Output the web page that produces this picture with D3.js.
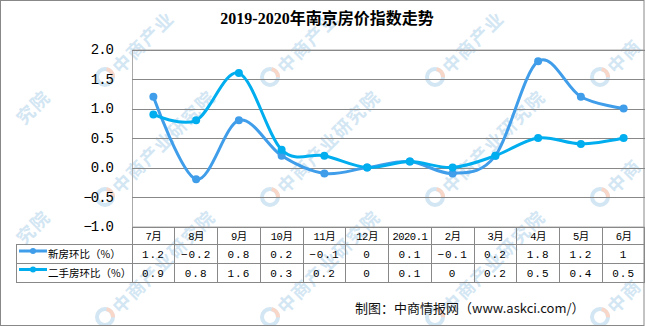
<!DOCTYPE html>
<html>
<head>
<meta charset="utf-8">
<script src="https://cdn.jsdelivr.net/npm/d3@7"></script>
<style>
  html, body { margin: 0; padding: 0; background: #fff; }
  svg { display: block; }
</style>
</head>
<body>
<svg id="chart" width="645" height="326"></svg>
<script>
const title = "2019-2020年南京房价指数走势";
const months = ["7月","8月","9月","10月","11月","12月","2020.1","2月","3月","4月","5月","6月"];
const seriesNames = ["新房环比（%）", "二手房环比（%）"];
const newHouse = [1.2, -0.2, 0.8, 0.2, -0.1, 0, 0.1, -0.1, 0.2, 1.8, 1.2, 1];
const secondHand = [0.9, 0.8, 1.6, 0.3, 0.2, 0, 0.1, 0, 0.2, 0.5, 0.4, 0.5];
const yTicks = [2.0, 1.5, 1.0, 0.5, 0.0, -0.5, -1.0];
const source = "制图：中商情报网（www.askci.com/）";
const watermark = "中商产业研究院";

const colors = ["#3f9dea", "#00aeef"];
const svg = d3.select("#chart");
const W = 645, H = 326;

svg.append("rect").attr("width", W).attr("height", H).attr("fill", "#fff");

// watermark (beneath chart); only glyphs fully inside the picture are drawn
const wm = svg.append("g");
const wmX = [-60, 105, 270, 435, 600];
const wmY = [-43, 77, 197, 317];
const dir = [Math.SQRT1_2, -Math.SQRT1_2];
wmY.forEach(y0 => wmX.forEach(x0 => {
  const g = wm.append("g").attr("transform", `translate(${x0},${y0})`);
  g.append("circle").attr("r", 8).attr("fill", "none").attr("stroke", "#d3e6f3").attr("stroke-width", 4);
  const arc = d3.arc().innerRadius(6).outerRadius(10).startAngle(0.2).endAngle(1.6);
  g.append("path").attr("d", arc()).attr("fill", "#f8d6c8");
  Array.from(watermark).forEach((ch, i) => {
    const s = 4 + i * 19.5 + 9;
    const cx = x0 + 8 + dir[0] * s, cy = y0 - 4 + dir[1] * s;
    if (cx < 14 || cx > W - 14 || cy < 14 || cy > H - 14) return;
    wm.append("text").attr("transform", `translate(${cx},${cy}) rotate(-45)`)
      .attr("text-anchor", "middle").attr("dy", "0.35em")
      .attr("font-family", "Noto Sans CJK SC").attr("font-size", 18).attr("font-weight", "bold")
      .attr("fill", "#d3e6f3").text(ch);
  });
}));

// frame
svg.append("rect").attr("x", 0.5).attr("y", 0.5).attr("width", W - 1.5).attr("height", H - 1)
  .attr("fill", "none").attr("stroke", "#888");

// title
svg.append("text").attr("x", 327).attr("y", 24).attr("text-anchor", "middle")
  .attr("font-family", "Liberation Serif, Noto Sans CJK SC").attr("font-weight", "bold")
  .attr("font-size", 16).attr("fill", "#000").text(title);

const x = d3.scaleBand().domain(months).range([132, 645]);
const y = d3.scaleLinear().domain([-1, 2]).range([226.5, 49.5]);

// gridlines + y axis
const yAxis = d3.axisLeft(y).tickValues(yTicks).tickSize(-(645 - 132)).tickFormat(d3.format(".1f"));
const ga = svg.append("g").attr("transform", "translate(132,0)").call(yAxis);
ga.select(".domain").attr("stroke", "#aaa");
ga.selectAll(".tick line").attr("stroke", "#888").attr("shape-rendering", "crispEdges");
ga.selectAll(".tick text").attr("x", -19)
  .attr("font-family", "Liberation Mono").attr("font-size", 14).attr("letter-spacing", -1)
  .attr("fill", "#000");

// data table
const rowTop = 226.5, r1 = 244.5, r2 = 263.5, r3 = 282;
const tbl = svg.append("g").attr("shape-rendering", "crispEdges");
[r1, r2, r3].forEach(yy => tbl.append("line").attr("x1", 16).attr("x2", 645).attr("y1", yy).attr("y2", yy).attr("stroke", "#888"));
tbl.append("line").attr("x1", 16).attr("x2", 16).attr("y1", r1).attr("y2", r3).attr("stroke", "#888");
months.forEach(m => {
  tbl.append("line").attr("x1", x(m)).attr("x2", x(m)).attr("y1", rowTop).attr("y2", r3).attr("stroke", "#888");
});
tbl.append("line").attr("x1", 644).attr("x2", 644).attr("y1", rowTop).attr("y2", r3).attr("stroke", "#888");

const tfont = "Liberation Mono, Noto Sans CJK SC";
svg.append("g").selectAll("text").data(months).join("text")
  .attr("x", d => x(d) + x.bandwidth() / 2).attr("y", (rowTop + r1) / 2 + 4)
  .attr("text-anchor", "middle").attr("font-family", tfont).attr("font-size", 10.5)
  .attr("letter-spacing", -0.5).text(d => d);

const fmt = v => String(v).replace("-", "−");
[newHouse, secondHand].forEach((vals, i) => {
  const cy = i === 0 ? (r1 + r2) / 2 + 4 : (r2 + r3) / 2 + 4;
  svg.append("g").selectAll("text").data(vals).join("text")
    .attr("x", (d, j) => x(months[j]) + x.bandwidth() / 2).attr("y", cy)
    .attr("text-anchor", "middle").attr("font-family", tfont).attr("font-size", 11)
    .attr("letter-spacing", 1).text(d => fmt(d));
  const ly = i === 0 ? 251 : 269.5;
  svg.append("line").attr("x1", 19).attr("x2", 47).attr("y1", ly).attr("y2", ly)
    .attr("stroke", colors[i]).attr("stroke-width", 3);
  svg.append("circle").attr("cx", 33).attr("cy", ly).attr("r", 3).attr("fill", colors[i]);
  svg.append("text").attr("x", 48).attr("y", cy).attr("font-family", "Noto Sans CJK SC")
    .attr("font-size", 10.5).attr("fill", "#000").text(seriesNames[i]);
});

// smoothed lines
const line = d3.line().x((d, j) => x(months[j]) + x.bandwidth() / 2).y(d => y(d))
  .curve(d3.curveCardinal.tension(0));
[newHouse, secondHand].forEach((vals, i) => {
  svg.append("path").datum(vals).attr("d", line).attr("fill", "none")
    .attr("stroke", colors[i]).attr("stroke-width", 3).attr("stroke-linejoin", "round");
  svg.append("g").selectAll("circle").data(vals).join("circle")
    .attr("cx", (d, j) => x(months[j]) + x.bandwidth() / 2).attr("cy", d => y(d))
    .attr("r", 4).attr("fill", colors[i]);
});

// source
svg.append("text").attr("x", 355).attr("y", 313).attr("font-family", "Noto Sans CJK SC")
  .attr("font-size", 13).attr("fill", "#111").text(source);
</script>
</body>
</html>
